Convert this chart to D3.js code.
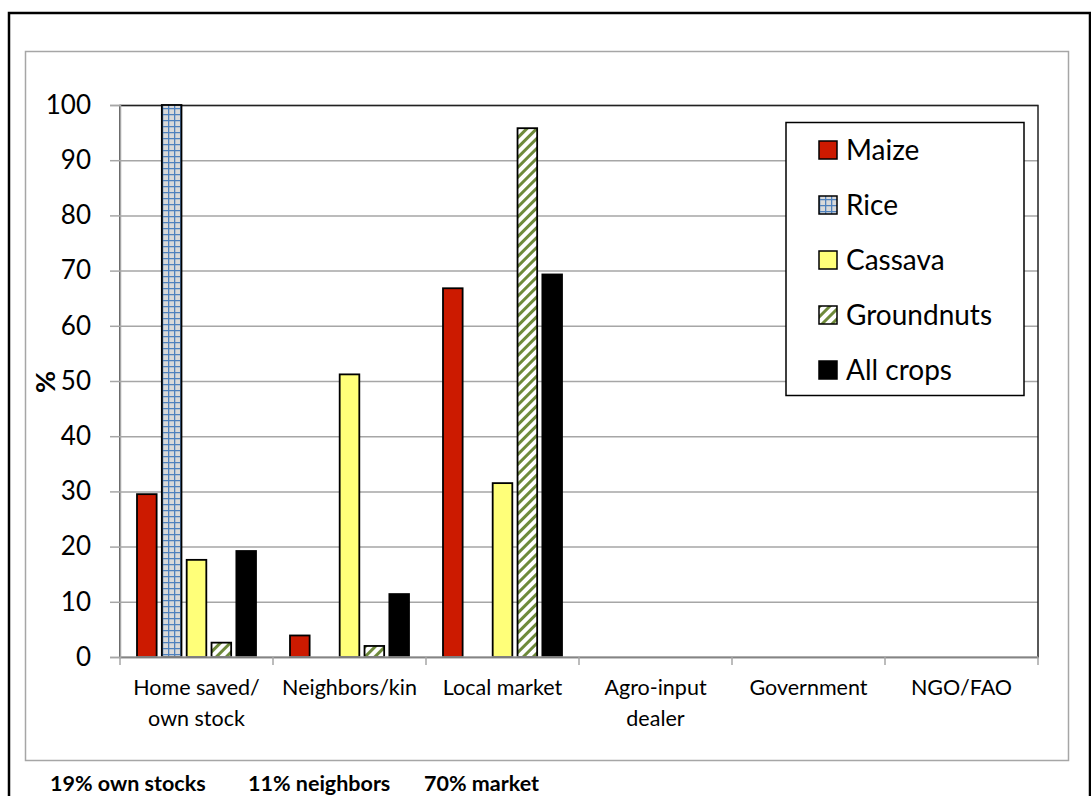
<!DOCTYPE html>
<html>
<head>
<meta charset="utf-8">
<script src="https://cdn.jsdelivr.net/npm/d3@7"></script>
<style>
  html, body { margin: 0; padding: 0; background: #fff; }
  svg { display: block; font-family: Lato, "Open Sans", sans-serif; }
</style>
</head>
<body>
<svg id="chart" width="1091" height="796"></svg>
<script>
// Seed sources by crop (% of farmers)
const categories = ["Home saved/ own stock", "Neighbors/kin", "Local market", "Agro-input dealer", "Government", "NGO/FAO"];
const categoryLines = [["Home saved/", "own stock"], ["Neighbors/kin"], ["Local market"], ["Agro-input", "dealer"], ["Government"], ["NGO/FAO"]];
const seriesNames = ["Maize", "Rice", "Cassava", "Groundnuts", "All crops"];
const maize      = [29.5, 3.9, 66.8, 0, 0, 0];
const rice       = [100, 0, 0, 0, 0, 0];
const cassava    = [17.6, 51.2, 31.5, 0, 0, 0];
const groundnuts = [2.6, 2.0, 95.8, 0, 0, 0];
const allCrops   = [19.2, 11.4, 69.3, 0, 0, 0];
const yTicks = [0, 10, 20, 30, 40, 50, 60, 70, 80, 90, 100];
const summaryLabels = ["19% own stocks", "11% neighbors", "70% market"];

const seriesValues = [maize, rice, cassava, groundnuts, allCrops];

const svg = d3.select("#chart");
const defs = svg.append("defs");

// Rice: blue grid over light grey
const grid = defs.append("pattern").attr("id", "pat-rice")
  .attr("patternUnits", "userSpaceOnUse").attr("width", 6).attr("height", 6);
grid.append("rect").attr("width", 6).attr("height", 6).attr("fill", "#d9d9d9");
grid.append("path").attr("d", "M0,0.6H6M0.6,0V6").attr("stroke", "#4f81bd").attr("stroke-width", 1.4);

// Groundnuts: olive diagonal stripes on white
const stripes = defs.append("pattern").attr("id", "pat-gnut")
  .attr("patternUnits", "userSpaceOnUse").attr("width", 7).attr("height", 7)
  .attr("patternTransform", "rotate(45)");
stripes.append("rect").attr("width", 7).attr("height", 7).attr("fill", "#fff");
stripes.append("line").attr("x1", 1.5).attr("x2", 1.5).attr("y1", 0).attr("y2", 7)
  .attr("stroke", "#6e8a3a").attr("stroke-width", 3);

const fills = ["#cc1a00", "url(#pat-rice)", "#ffff79", "url(#pat-gnut)", "#000"];

// Outer frame and chart-area frame
svg.append("rect").attr("x", 9).attr("y", 13).attr("width", 1081).attr("height", 800)
  .attr("fill", "none").attr("stroke", "#000").attr("stroke-width", 2.5);
svg.append("rect").attr("x", 25.5).attr("y", 51.5).attr("width", 1043).attr("height", 709)
  .attr("fill", "none").attr("stroke", "#a6a6a6").attr("stroke-width", 1.5);

const plot = { left: 120, right: 1038, top: 105, bottom: 657 };

const y = d3.scaleLinear().domain([0, 100]).range([plot.bottom, plot.top]);
const x0 = d3.scaleBand().domain(categories).range([plot.left, plot.right]).padding(0);
const x1 = d3.scaleBand().domain(seriesNames).range([17, x0.bandwidth() - 17]).paddingInner(0.21).paddingOuter(0);

// Gridlines
svg.append("g").selectAll("line").data(yTicks.filter(d => d > 0)).join("line")
  .attr("x1", plot.left).attr("x2", plot.right)
  .attr("y1", d => y(d) + 0.5).attr("y2", d => y(d) + 0.5)
  .attr("stroke", "#a6a6a6").attr("stroke-width", 1.5);

// Plot border
svg.append("rect").attr("x", plot.left).attr("y", plot.top + 0.5)
  .attr("width", plot.right - plot.left).attr("height", plot.bottom - plot.top)
  .attr("fill", "none").attr("stroke", "#222").attr("stroke-width", 1.5);

// Bars
const barGroups = svg.append("g").selectAll("g").data(seriesNames).join("g")
  .attr("fill", (d, i) => fills[i]);
barGroups.selectAll("rect")
  .data((s, si) => categories.map((c, ci) => ({ s, c, v: seriesValues[si][ci] })).filter(d => d.v > 0))
  .join("rect")
  .attr("x", d => x0(d.c) + x1(d.s))
  .attr("width", x1.bandwidth())
  .attr("y", d => y(d.v))
  .attr("height", d => y(0) - y(d.v))
  .attr("stroke", "#000").attr("stroke-width", 1.8);

// Y axis
const yAxis = svg.append("g").attr("transform", `translate(${plot.left},0)`)
  .call(d3.axisLeft(y).tickValues(yTicks).tickSize(10).tickPadding(19).tickFormat(d3.format("d")));
yAxis.select(".domain").attr("stroke", "#a6a6a6").attr("stroke-width", 1.5);
yAxis.selectAll(".tick line").attr("stroke", "#a6a6a6").attr("stroke-width", 1.5);
yAxis.selectAll(".tick text").attr("font-size", 26).attr("fill", "#000")
  .attr("font-family", "Lato, sans-serif");

// X axis with ticks at category boundaries
const xAxisG = svg.append("g");
xAxisG.append("line").attr("x1", plot.left).attr("x2", plot.right)
  .attr("y1", plot.bottom).attr("y2", plot.bottom)
  .attr("stroke", "#a6a6a6").attr("stroke-width", 1.5);
const boundaries = categories.map(c => x0(c)).concat([plot.right]);
xAxisG.selectAll("line.tk").data(boundaries).join("line").attr("class", "tk")
  .attr("x1", d => d).attr("x2", d => d).attr("y1", plot.bottom).attr("y2", plot.bottom + 8)
  .attr("stroke", "#a6a6a6").attr("stroke-width", 1.5);
xAxisG.selectAll("text").data(categories).join("text")
  .attr("x", d => x0(d) + x0.bandwidth() / 2)
  .attr("y", 695)
  .attr("text-anchor", "middle").attr("font-size", 21.5).attr("fill", "#000")
  .each(function (d, i) {
    d3.select(this).selectAll("tspan").data(categoryLines[i]).join("tspan")
      .attr("x", x0(d) + x0.bandwidth() / 2)
      .attr("dy", (t, j) => j === 0 ? 0 : 31)
      .text(t => t);
  });

// Y axis title
svg.append("text").attr("transform", "translate(55,382) rotate(-90)")
  .attr("text-anchor", "middle").attr("font-size", 27).attr("font-weight", "bold").text("%");

// Legend
const legend = svg.append("g");
legend.append("rect").attr("x", 786).attr("y", 122.5).attr("width", 238).attr("height", 273)
  .attr("fill", "#fff").attr("stroke", "#000").attr("stroke-width", 1.5);
const items = legend.selectAll("g.item").data(seriesNames).join("g").attr("class", "item")
  .attr("transform", (d, i) => `translate(819,${150 + i * 55})`);
items.append("rect").attr("x", 0).attr("y", -9).attr("width", 18).attr("height", 18)
  .attr("fill", (d, i) => fills[i]).attr("stroke", "#000").attr("stroke-width", 1.5);
items.append("text").attr("x", 27).attr("y", 10).attr("font-size", 28).attr("fill", "#000").text(d => d);

// Summary line
const sx = [50, 248, 424];
svg.append("g").selectAll("text").data(summaryLabels).join("text")
  .attr("x", (d, i) => sx[i]).attr("y", 791)
  .attr("font-size", 21.5).attr("font-weight", "bold").attr("fill", "#000").text(d => d);
</script>
</body>
</html>
